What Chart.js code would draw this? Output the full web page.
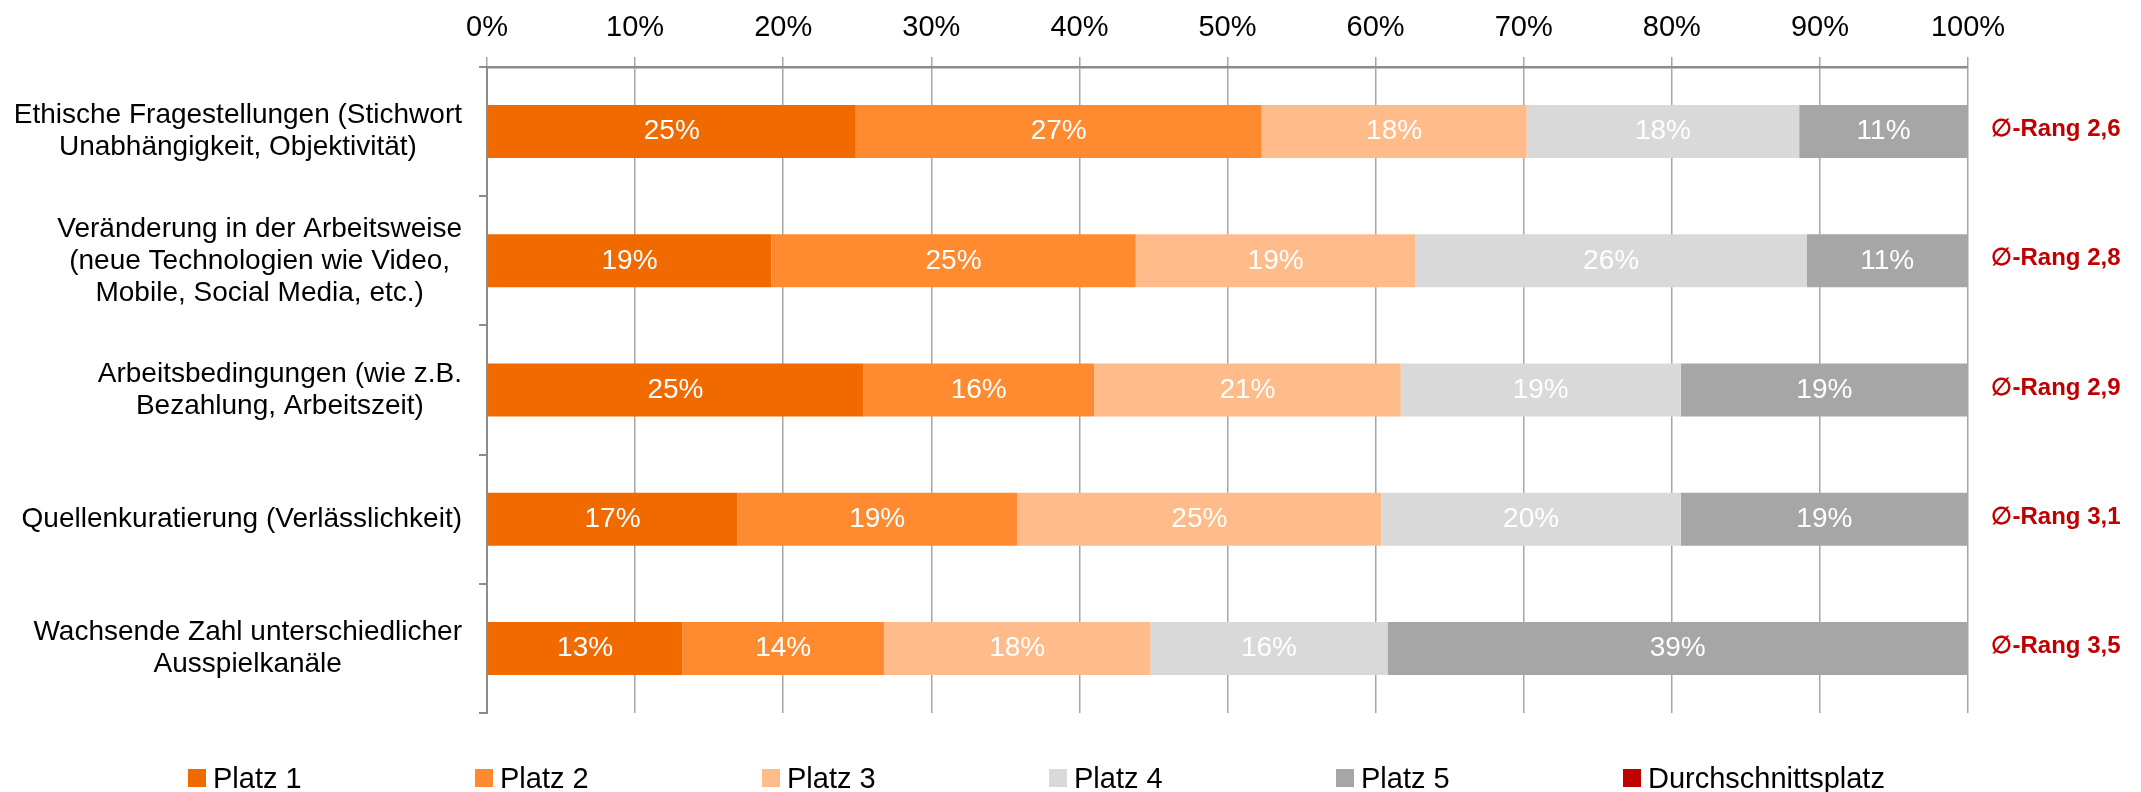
<!DOCTYPE html>
<html lang="de">
<head>
<meta charset="utf-8">
<title>Herausforderungen – Rangfolge</title>
<script src="https://cdn.jsdelivr.net/npm/chart.js@4.4.1/dist/chart.umd.min.js"></script>
<style>
  body { margin: 0; background: #fff; font-family: "Liberation Sans", Arial, sans-serif; }
  .wrap { position: relative; width: 2141px; height: 792px; }
  #legend { position: absolute; left: 188px; top: 762px; display: flex; }
  .item { display: flex; align-items: center; width: 287px; height: 32px; font-size: 29px; color: #000; }
  .item .box { width: 18px; height: 18px; margin-right: 7px; flex: none; }
</style>
</head>
<body>
<div class="wrap">
  <canvas id="rankChart" width="2141" height="792"></canvas>
  <div id="legend"></div>
</div>
<script>
// Data
const categories = [
    ['Ethische Fragestellungen (Stichwort', 'Unabhängigkeit, Objektivität)'],
    ['Veränderung in der Arbeitsweise', '(neue Technologien wie Video,', 'Mobile, Social Media, etc.)'],
    ['Arbeitsbedingungen (wie z.B.', 'Bezahlung, Arbeitszeit)'],
    ['Quellenkuratierung (Verlässlichkeit)'],
    ['Wachsende Zahl unterschiedlicher', 'Ausspielkanäle']
];
const platz1 = [24.9, 19.2, 25.4, 16.9, 13.2];
const platz2 = [27.4, 24.6, 15.6, 18.9, 13.6];
const platz3 = [17.9, 18.9, 20.7, 24.6, 18.0];
const platz4 = [18.4, 26.4, 18.9, 20.2, 16.0];
const platz5 = [11.4, 10.9, 19.4, 19.4, 39.2];
const avgRank = [2.6, 2.8, 2.9, 3.1, 3.5];
const xTickLabels = ['0%', '10%', '20%', '30%', '40%', '50%', '60%', '70%', '80%', '90%', '100%'];

const seriesNames = ['Platz 1', 'Platz 2', 'Platz 3', 'Platz 4', 'Platz 5', 'Durchschnittsplatz'];
const seriesColors = ['#F06A00', '#FF8A30', '#FFBC8A', '#D9D9D9', '#A6A6A6', '#C00000'];

const FONT = '"Liberation Sans", Arial, sans-serif';

// Category labels: right-aligned block, lines centred inside it
const categoryLabels = {
    id: 'categoryLabels',
    afterDraw(chart) {
        const ctx = chart.ctx;
        const yScale = chart.scales.y;
        ctx.save();
        ctx.font = '28px ' + FONT;
        ctx.fillStyle = '#000';
        ctx.textAlign = 'center';
        ctx.textBaseline = 'middle';
        categories.forEach((lines, i) => {
            const cy = yScale.getPixelForValue(i);
            const w = Math.max(...lines.map(l => ctx.measureText(l).width));
            const cx = chart.chartArea.left - 25 - w / 2;
            lines.forEach((l, j) => {
                ctx.fillText(l, cx, cy + (j - (lines.length - 1) / 2) * 32);
            });
        });
        ctx.restore();
    }
};

// Percent labels inside the bar segments + average rank at the right
const barLabels = {
    id: 'barLabels',
    afterDatasetsDraw(chart) {
        const ctx = chart.ctx;
        ctx.save();
        ctx.font = '28px ' + FONT;
        ctx.fillStyle = '#fff';
        ctx.textAlign = 'center';
        ctx.textBaseline = 'middle';
        chart.data.datasets.forEach((ds, di) => {
            chart.getDatasetMeta(di).data.forEach((bar, i) => {
                ctx.fillText(Math.round(ds.data[i]) + '%', (bar.x + bar.base) / 2, bar.y);
            });
        });

        const yScale = chart.scales.y;
        ctx.font = 'bold 24px ' + FONT;
        ctx.fillStyle = seriesColors[5];
        avgRank.forEach((r, i) => {
            const txt = '\u2205-Rang ' + r.toFixed(1).replace('.', ',');
            ctx.fillText(txt, chart.chartArea.right + 88, yScale.getPixelForValue(i) - 2);
        });
        ctx.restore();
    }
};

const seriesData = [platz1, platz2, platz3, platz4, platz5];

const ctx = document.getElementById('rankChart').getContext('2d');
const rankChart = new Chart(ctx, {
    type: 'bar',
    data: {
        labels: categories.map(c => c.join(' ')),
        datasets: seriesData.map((d, i) => ({
            label: seriesNames[i],
            data: d,
            backgroundColor: seriesColors[i],
            borderWidth: 0,
            categoryPercentage: 1,
            barPercentage: 0.41
        }))
    },
    options: {
        indexAxis: 'y',
        responsive: false,
        animation: false,
        devicePixelRatio: 1,
        layout: {
            padding: { top: 0, left: 0, right: 173, bottom: 79 }
        },
        plugins: {
            legend: { display: false },
            tooltip: { enabled: false }
        },
        scales: {
            x: {
                position: 'top',
                stacked: true,
                min: 0,
                max: 100,
                ticks: {
                    stepSize: 10,
                    padding: 12,
                    color: '#000',
                    font: { family: FONT, size: 29 },
                    callback: (v, i) => xTickLabels[i]
                },
                grid: {
                    color: '#a6a6a6',
                    lineWidth: 1.5,
                    tickLength: 10
                },
                border: { display: true, color: '#8c8c8c', width: 2.5 },
                afterFit: s => { s.height = 67; }
            },
            y: {
                stacked: true,
                ticks: { display: false },
                grid: {
                    offset: true,
                    drawOnChartArea: false,
                    tickLength: 8,
                    color: '#8c8c8c',
                    lineWidth: 2
                },
                border: { display: true, color: '#8c8c8c', width: 2 },
                afterFit: s => { s.width = 487; }
            }
        }
    },
    plugins: [categoryLabels, barLabels]
});

// Legend
const legend = document.getElementById('legend');
seriesNames.forEach((name, i) => {
    const item = document.createElement('div');
    item.className = 'item';
    item.innerHTML = `<span class="box" style="background:${seriesColors[i]}"></span><span>${name}</span>`;
    legend.appendChild(item);
});
</script>
</body>
</html>
